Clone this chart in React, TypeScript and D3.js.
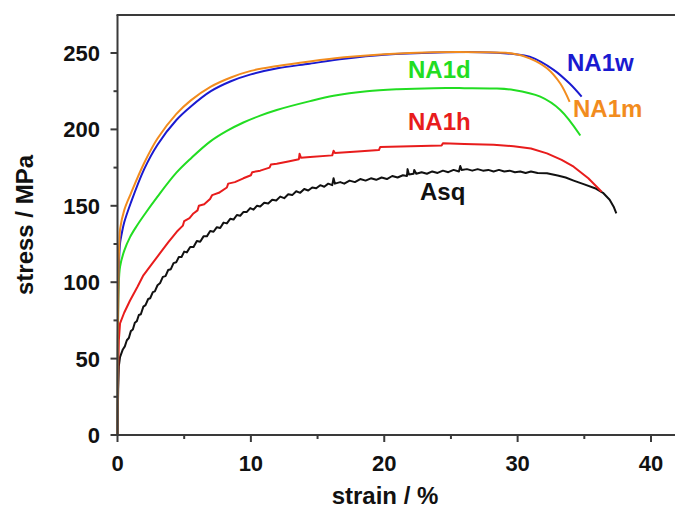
import React from "react";
import * as d3 from "d3";

const xTicksMajor = [0, 10, 20, 30, 40];
const xTicksMinor = [5, 15, 25, 35];
const yTicksMajor = [0, 50, 100, 150, 200, 250];
const yTicksMinor = [25, 75, 125, 175, 225];

const asq: [number, number][] = [
  [0, 0], [0.05, 30], [0.1, 45], [0.19, 51],
  [0.4, 56], [0.55, 58], [0.7, 62], [0.85, 63.5], [1.0, 68], [1.15, 69], [1.3, 73.5], [1.45, 74.5],
  [1.6, 78.5], [1.75, 79], [1.94, 84], [2.1, 85], [2.3, 89], [2.45, 89.5], [2.65, 93.5], [2.8, 94],
  [3.0, 98], [3.2, 99.5], [3.4, 103.5], [3.6, 104], [3.8, 108], [4.0, 108.5], [4.2, 112.5], [4.4, 113],
  [4.6, 116.5], [4.8, 116.5], [5.0, 120], [5.2, 119.5], [5.45, 123], [5.7, 123], [5.95, 127], [6.2, 126.5],
  [6.45, 130], [6.7, 130], [6.95, 133.5], [7.2, 133], [7.45, 136], [7.7, 135.5], [7.95, 139], [8.2, 138.5],
  [8.45, 141.5], [8.7, 141], [8.95, 144], [9.2, 143.5], [9.45, 146], [9.7, 146], [9.95, 148.5], [10.2, 147.5],
  [10.45, 150], [10.7, 149.5], [11.0, 152], [11.3, 151.5], [11.6, 154], [11.9, 153.5], [12.2, 156], [12.5, 155],
  [12.8, 157.5], [13.1, 157], [13.4, 159.5], [13.7, 158.5], [14.0, 161], [14.3, 160], [14.6, 162], [14.9, 161.5],
  [15.2, 163.5], [15.5, 162.5], [15.8, 164.5], [16.1, 163.5], [16.2, 168], [16.3, 164.5], [16.7, 165.5], [17.0, 164.5],
  [17.4, 166.5], [17.8, 165.5], [18.2, 167.5], [18.6, 166.5], [19.0, 168], [19.4, 167], [19.8, 168.5], [20.2, 167.5],
  [20.6, 169.5], [21.0, 168.5], [21.4, 170], [21.7, 169.5], [21.75, 174], [21.85, 170.5], [22.2, 171], [22.25, 173.5],
  [22.4, 171], [22.8, 172], [23.2, 171], [23.6, 172.5], [24.0, 171.5], [24.4, 173], [24.8, 172], [25.2, 173.5],
  [25.6, 172.5], [25.7, 176], [25.8, 173.5], [26.2, 174], [26.6, 173], [27.0, 174], [27.4, 173], [27.8, 173.5],
  [28.2, 172.5], [28.6, 173.5], [29.0, 172.5], [29.4, 173], [29.8, 172], [30.2, 172.5], [30.6, 171.5], [31.0, 172.5],
  [31.5, 171.5], [32.2, 171.3], [33.0, 169.8], [33.6, 168.5], [34.2, 166.5], [35.0, 164], [35.8, 161.5], [36.4, 158.5],
  [36.9, 154], [37.2, 149.4], [37.4, 145],
];

const na1h: [number, number][] = [
  [0, 0], [0.05, 40], [0.1, 62], [0.19, 73], [0.5, 80], [0.94, 88], [1.5, 97], [1.94, 104.5], [2.5, 111],
  [3.19, 119], [3.8, 126], [4.44, 133], [4.9, 137], [5.0, 140], [5.4, 142], [5.69, 145], [6.0, 147], [6.1, 150],
  [6.5, 151], [6.94, 154.5], [7.1, 157], [7.6, 158.5], [8.2, 162], [8.3, 164.5], [8.8, 165.5], [9.44, 168],
  [10.0, 170], [10.1, 172], [10.7, 173], [11.4, 175], [11.5, 177], [11.94, 177.5], [12.8, 179], [13.6, 180.5],
  [13.65, 184], [13.75, 181.5], [14.44, 182], [16.1, 183], [16.2, 186], [16.3, 184.5], [18, 185.5], [19.6, 186.5],
  [19.7, 188.5], [22, 189], [24.3, 189.5], [24.4, 191], [26, 190.5], [28.2, 190], [29.7, 189], [31, 187.5],
  [32.2, 184.3], [33.3, 180], [34.2, 175.6], [35.3, 168], [36.3, 159.2],
];

const na1d: [number, number][] = [
  [0, 0], [0.03, 60], [0.08, 95], [0.19, 110], [0.5, 120.5], [0.94, 129.5], [1.44, 136.8], [2, 144], [3, 156],
  [4.4, 171.5], [5.5, 181], [6.94, 192], [8.2, 199], [9.44, 204.5], [10.7, 209], [11.94, 212.7], [14.44, 218.5],
  [16.2, 222], [18.7, 225], [21, 226.3], [23.7, 227], [26, 227], [28.2, 226.8], [29.7, 225.8], [31.7, 221.4],
  [33.2, 212.7], [34.7, 196],
];

const na1w: [number, number][] = [
  [0, 0], [0.03, 60], [0.08, 105], [0.2, 126], [0.3, 131], [0.5, 139], [1, 152], [2, 174], [3, 190], [4.4, 206],
  [5.5, 215], [7, 225], [8.5, 231.5], [10, 236], [12, 240], [14.4, 243], [17, 246.2], [20, 248.8], [24, 250.3],
  [27.2, 250.5], [29.7, 249.3], [30.9, 247.6], [32.7, 239], [33.9, 230], [34.8, 221.4],
];

const na1m: [number, number][] = [
  [0, 0], [0.03, 60], [0.08, 110], [0.15, 128], [0.2, 135], [0.5, 147], [1, 158], [2, 178], [3, 194], [4.4, 210],
  [5.5, 219], [7, 228], [8.5, 234], [10, 238.3], [12, 241.5], [14.4, 244.5], [17, 247.2], [20, 249.2], [23.7, 250.5],
  [27.2, 250.5], [29.7, 249.5], [30.9, 246.5], [32.2, 240], [33.2, 230], [33.9, 218],
];

const seriesNames = ["Asq", "NA1h", "NA1d", "NA1w", "NA1m"];
const seriesData = [asq, na1h, na1d, na1w, na1m];
const seriesColors = ["#111111", "#e81c1c", "#22dd22", "#1a1ad0", "#f28c1e"];
// label anchor positions in data units (strain, stress)
const labelPos: [number, number][] = [
  [22.68, 153.8], [21.78, 199.6], [21.78, 233.6], [33.7, 238.2], [34.15, 208.1],
];

export default function App() {
  const W = 675, H = 508;
  const x = d3.scaleLinear().domain([0, 40]).range([117.5, 651]);
  const y = d3.scaleLinear().domain([0, 250]).range([435, 53]);
  const line = d3.line<[number, number]>().x((d) => x(d[0])).y((d) => y(d[1])).curve(d3.curveLinear);
  const smooth = d3.line<[number, number]>().x((d) => x(d[0])).y((d) => y(d[1])).curve(d3.curveCatmullRom.alpha(0.5));
  const axisColor = "#3a3a3a";
  const font = "'Liberation Sans', Arial, sans-serif";
  const x0 = x(0), yb = y(0), yTop = 15;

  return (
    <svg width={W} height={H} style={{ position: "absolute", left: 0, top: 0, display: "block", background: "#fff" }}>
      {seriesData.map((d, i) => (
        <path key={seriesNames[i]} d={(i <= 1 ? line(d) : smooth(d)) || ""} fill="none"
          stroke={seriesColors[i]} strokeWidth={2} strokeLinejoin="round" />
      ))}
      <line x1={x0} x2={x0} y1={yTop} y2={yb} stroke={axisColor} strokeWidth={2} />
      <line x1={x0 - 1} x2={W} y1={yb} y2={yb} stroke={axisColor} strokeWidth={2} />
      <line x1={x0 - 1} x2={W} y1={yTop} y2={yTop} stroke={axisColor} strokeWidth={2} />
      {yTicksMajor.map((t) => (
        <g key={"ym" + t}>
          <line x1={x0 - 7} x2={x0} y1={y(t)} y2={y(t)} stroke={axisColor} strokeWidth={2} />
          <text x={100} y={y(t) + 8} textAnchor="end" fontFamily={font} fontWeight="bold" fontSize={22} fill="#111">{t}</text>
        </g>
      ))}
      {yTicksMinor.map((t) => (
        <line key={"yn" + t} x1={x0 - 4} x2={x0} y1={y(t)} y2={y(t)} stroke={axisColor} strokeWidth={2} />
      ))}
      {xTicksMajor.map((t) => (
        <g key={"xm" + t}>
          <line x1={x(t)} x2={x(t)} y1={yb} y2={yb + 7} stroke={axisColor} strokeWidth={2} />
          <text x={x(t)} y={471} textAnchor="middle" fontFamily={font} fontWeight="bold" fontSize={22} fill="#111">{t}</text>
        </g>
      ))}
      {xTicksMinor.map((t) => (
        <line key={"xn" + t} x1={x(t)} x2={x(t)} y1={yb} y2={yb + 4} stroke={axisColor} strokeWidth={2} />
      ))}
      <text transform="translate(33,225) rotate(-90)" textAnchor="middle" fontFamily={font} fontWeight="bold" fontSize={24} fill="#111">stress / MPa</text>
      <text x={385} y={504} textAnchor="middle" fontFamily={font} fontWeight="bold" fontSize={24} fill="#111">strain / %</text>
      {seriesNames.map((n, i) => (
        <text key={"l" + n} x={x(labelPos[i][0])} y={y(labelPos[i][1])} fontFamily={font} fontWeight="bold" fontSize={24}
          fill={seriesColors[i]}>{n}</text>
      ))}
    </svg>
  );
}
